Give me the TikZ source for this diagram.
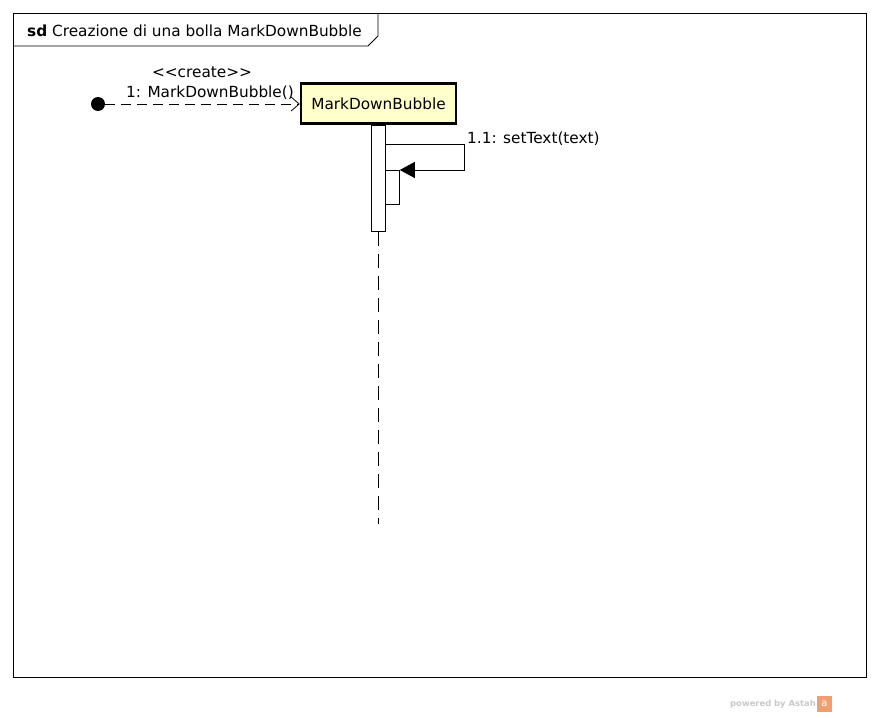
\documentclass[tikz,border=0pt]{standalone}
\usepackage{fontspec}
\setmainfont{DejaVu Sans}
\usetikzlibrary{arrows.meta}
\definecolor{objfill}{HTML}{FFFFCC}
\definecolor{astahgray}{HTML}{C8C8C8}
\definecolor{astahorange}{HTML}{F0A070}
\tikzset{
  lbl/.style={font=\fontsize{15.3}{17}\selectfont, inner sep=0pt},
  objbox/.style={draw, line width=2.5pt, fill=objfill, minimum width=155pt, minimum height=40pt, inner sep=0pt, font=\fontsize{15.3}{17}\selectfont},
  actbar/.style={draw, fill=white, line width=0.8pt},
  msg/.style={line width=0.8pt},
}
\begin{document}
\begin{tikzpicture}[x=1pt,y=-1pt]
\useasboundingbox (0,0) rectangle (880,717);
% frame
\draw[line width=0.8pt] (13,13) rectangle (866,677);
\draw[line width=0.8pt] (13,46) -- (368,46) -- (378,36) -- (378,13);
\node[lbl, anchor=west] (title) at (27,31) {\textbf{sd} Creazione di una bolla MarkDownBubble};
% object
\node[objbox] (obj) at (378.5,103.5) {MarkDownBubble};
% found message start
\fill (98,104) circle (7);
\coordinate (start) at (105,104);
\draw[msg, dash pattern=on 10pt off 6pt, -{Straight Barb[length=8pt, width=14pt]}] (start) -- (obj.west |- start);
\node[lbl] (stereo) at (202,72) {{<}{<}create{>}{>}};
\node[lbl] (m1) at (210,93) {1: MarkDownBubble()};
% activation bars
\node[actbar, minimum width=14pt, minimum height=106pt, inner sep=0pt, anchor=north] (act) at (378,125) {};
\node[actbar, minimum width=14pt, minimum height=34pt, inner sep=0pt, anchor=north west] (act2) at (385,170) {};
% lifeline
\coordinate (lend) at (378,524);
\draw[msg, dash pattern=on 14pt off 8pt] (act.south) -- (lend);
% self message
\coordinate (s1) at (385,144);
\coordinate (s2) at (464,144);
\coordinate (s3) at (464,170);
\draw[msg, -{Triangle[length=15pt, width=16pt]}] (s1) -- (s2) -- (s3) -- (act2.north east);
\node[lbl, anchor=west] (m2) at (467,139) {1.1: setText(text)};
% watermark
\node[anchor=east, inner sep=0pt, text=astahgray, font=\bfseries\fontsize{8.4}{10}\selectfont] (wm) at (816,704) {powered by Astah};
\fill[astahorange] (817,696) rectangle (832,712);
\node[text=white, font=\fontsize{10}{10}\selectfont, inner sep=0pt] (wmicon) at (824.5,704) {a};
\end{tikzpicture}
\end{document}
